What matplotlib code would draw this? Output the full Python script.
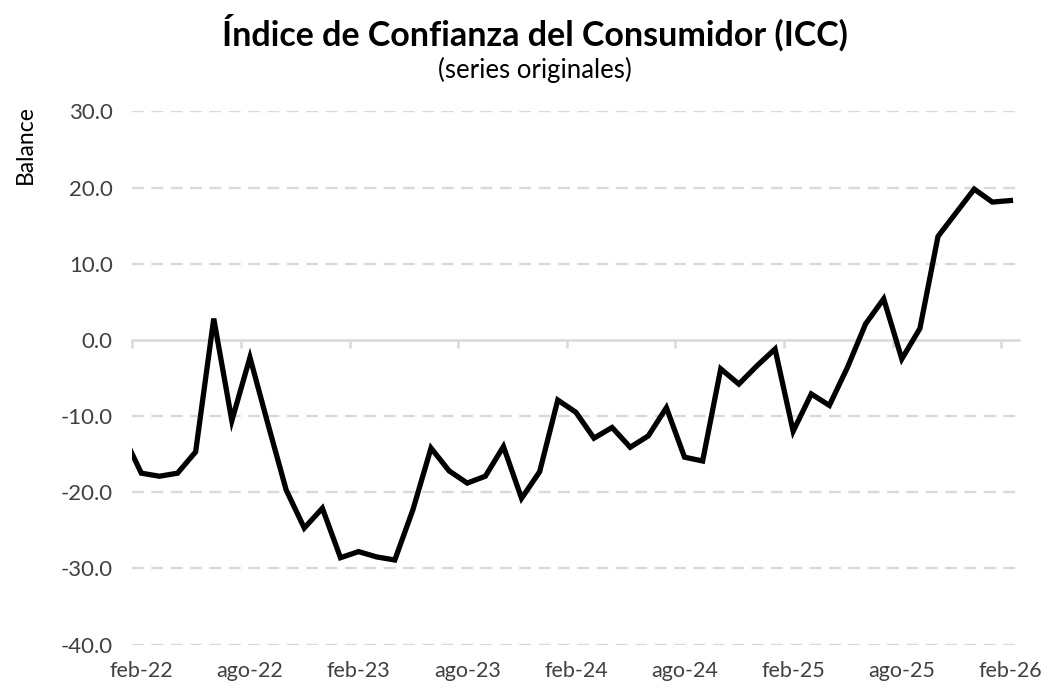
import matplotlib.pyplot as plt
import numpy as np

plt.rcParams['font.family'] = ['Lato', 'DejaVu Sans']

# Monthly balance, jan-22 .. feb-26 (jan-22 only feeds the clipped first segment)
months = ['ene-22',
          'feb-22', 'mar-22', 'abr-22', 'may-22', 'jun-22', 'jul-22',
          'ago-22', 'sep-22', 'oct-22', 'nov-22', 'dic-22', 'ene-23',
          'feb-23', 'mar-23', 'abr-23', 'may-23', 'jun-23', 'jul-23',
          'ago-23', 'sep-23', 'oct-23', 'nov-23', 'dic-23', 'ene-24',
          'feb-24', 'mar-24', 'abr-24', 'may-24', 'jun-24', 'jul-24',
          'ago-24', 'sep-24', 'oct-24', 'nov-24', 'dic-24', 'ene-25',
          'feb-25', 'mar-25', 'abr-25', 'may-25', 'jun-25', 'jul-25',
          'ago-25', 'sep-25', 'oct-25', 'nov-25', 'dic-25', 'ene-26',
          'feb-26']
icc = [-12.5,
       -17.5, -17.9, -17.5, -14.7, 2.8, -10.6,
       -2.3, -11.1, -19.7, -24.7, -22.1, -28.6,
       -27.8, -28.5, -28.9, -22.3, -14.2, -17.2,
       -18.8, -17.9, -14.0, -20.8, -17.3, -7.9,
       -9.5, -12.9, -11.5, -14.1, -12.6, -8.9,
       -15.4, -15.9, -3.8, -5.8, -3.4, -1.2,
       -12.0, -7.1, -8.6, -3.6, 2.1, 5.4,
       -2.5, 1.5, 13.6, 16.7, 19.8, 18.1,
       18.3]
yticks = [30, 20, 10, 0, -10, -20, -30, -40]

x = np.arange(len(months)) - 1          # feb-22 sits at 0
labelled = [i for i in range(len(months)) if i >= 1 and (i - 1) % 6 == 0]

fig = plt.figure(figsize=(10.48, 6.88), dpi=100)
ax = fig.add_axes([0.1262, 0.0632, 0.8466, 0.7748])

grid = '#D9D9D9'
for v in yticks:
    if v == 0:
        continue
    ax.axhline(v, color=grid, lw=1.7, ls=(0, (5.0, 3.2)), zorder=1)

ax.plot(x, icc, color='black', lw=3.8, solid_joinstyle='miter', zorder=3)

ax.set_xlim(-0.5, len(months) - 1.5)
ax.set_ylim(-40, 30)
for s in ax.spines.values():
    s.set_visible(False)

ax.set_yticks(yticks)
ax.set_yticklabels([f'{v:.1f}' for v in yticks])
ax.tick_params(axis='y', length=0, pad=14, labelsize=16, labelcolor='#404040')

ax.set_xticks([x[i] for i in labelled])
ax.set_xticklabels([months[i] for i in labelled])
ax.tick_params(axis='x', length=0, pad=12, labelsize=15.5, labelcolor='#404040')

# zero line acting as the category axis, tick marks on month boundaries
zero = ax.secondary_xaxis(40 / 70)
zero.set_alignment('bottom')
zero.spines['bottom'].set_color(grid)
zero.spines['bottom'].set_linewidth(1.8)
zero.spines['top'].set_visible(False)
zero.set_xticks([x[i] - 0.5 for i in labelled])
zero.set_xticklabels([])
zero.tick_params(axis='x', direction='out', length=5.5, width=1.8, color=grid)

fig.text(0.5105, 0.952, 'Índice de Confianza del Consumidor (ICC)',
         ha='center', va='center', fontsize=24.5, fontweight='bold', color='black')
fig.text(0.5105, 0.898, '(series originales)',
         ha='center', va='center', fontsize=18.5, color='black')
fig.text(0.024, 0.79, 'Balance', rotation=90, ha='center', va='center',
         fontsize=16.5, color='black')

fig.savefig('out.png', dpi=100, facecolor='white')
